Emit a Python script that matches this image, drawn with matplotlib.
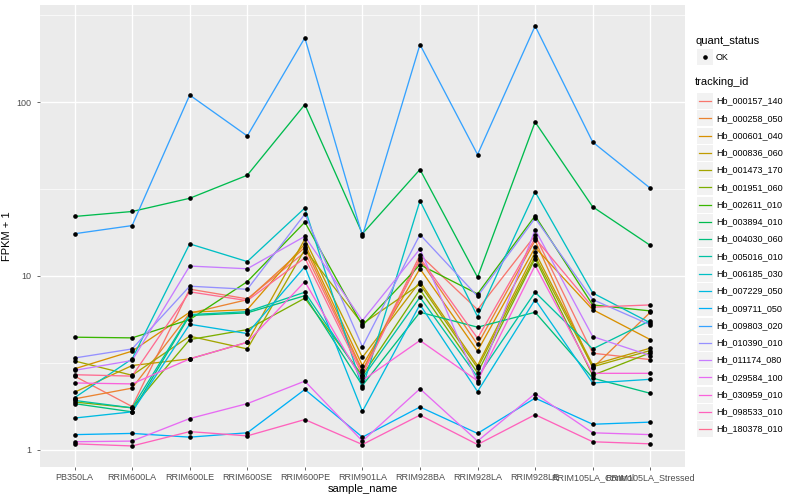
import numpy as np
import matplotlib
matplotlib.use("Agg")
import matplotlib.pyplot as plt
from matplotlib.patches import Rectangle
from matplotlib.lines import Line2D

plt.rcParams['font.family'] = ['Liberation Sans', 'DejaVu Sans']

samples = ["PB350LA", "RRIM600LA", "RRIM600LE", "RRIM600SE", "RRIM600PE",
           "RRIM901LA", "RRIM928BA", "RRIM928LA", "RRIM928LE",
           "RRIM105LA_Control", "RRIM105LA_Stressed"]

tracking_ids = ["Hb_000157_140", "Hb_000258_050", "Hb_000601_040", "Hb_000836_060",
                "Hb_001473_170", "Hb_001951_060", "Hb_002611_010", "Hb_003894_010",
                "Hb_004030_060", "Hb_005016_010", "Hb_006185_030", "Hb_007229_050",
                "Hb_009711_050", "Hb_009803_020", "Hb_010390_010", "Hb_011174_080",
                "Hb_029584_100", "Hb_030959_010", "Hb_098533_010", "Hb_180378_010"]

# FPKM + 1, one list per tracking id, in sample order
fpkm = {
    "Hb_000157_140": [2.65, 1.77, 8.4, 7.38, 13.7, 2.80, 13.2, 6.40, 17.1, 3.59, 3.30],
    "Hb_000258_050": [1.96, 2.26, 6.10, 7.3, 14.6, 2.86, 12.4, 4.03, 16.0, 2.95, 6.18],
    "Hb_000601_040": [2.92, 3.69, 6.18, 6.40, 15.3, 3.05, 11.0, 3.70, 14.6, 6.40, 4.30],
    "Hb_000836_060": [2.14, 3.05, 3.33, 4.15, 16.3, 3.40, 9.27, 3.05, 13.7, 3.08, 3.84],
    "Hb_001473_170": [3.24, 2.68, 4.50, 3.80, 14.2, 5.30, 8.96, 2.95, 13.0, 3.00, 3.72],
    "Hb_001951_060": [1.88, 1.74, 4.30, 4.91, 7.45, 2.67, 8.34, 2.77, 12.6, 2.68, 3.61],
    "Hb_002611_010": [4.44, 4.40, 5.61, 9.27, 20.4, 5.18, 11.6, 7.88, 22.2, 6.81, 6.29],
    "Hb_003894_010": [22.0, 23.5, 28.0, 38.0, 97.0, 17.5, 41.0, 9.83, 77.0, 25.0, 15.0],
    "Hb_004030_060": [1.84, 1.65, 5.92, 6.13, 7.70, 2.34, 6.18, 5.07, 6.18, 2.58, 2.11],
    "Hb_005016_010": [1.92, 1.74, 5.99, 6.23, 8.06, 2.58, 7.54, 2.62, 8.06, 3.80, 5.53],
    "Hb_006185_030": [1.99, 3.33, 15.3, 12.1, 24.6, 2.26, 27.1, 5.84, 30.5, 7.98, 5.37],
    "Hb_007229_050": [1.52, 1.65, 5.27, 4.66, 11.3, 1.66, 6.84, 2.16, 7.31, 2.42, 2.54],
    "Hb_009711_050": [1.22, 1.24, 1.18, 1.25, 2.22, 1.18, 1.76, 1.24, 1.98, 1.40, 1.44],
    "Hb_009803_020": [17.5, 19.5, 110.0, 64.0, 235.0, 17.0, 215.0, 50.0, 275.0, 59.0, 32.0],
    "Hb_010390_010": [3.37, 3.80, 8.73, 8.38, 22.7, 3.91, 17.3, 7.64, 21.5, 7.31, 5.23],
    "Hb_011174_080": [2.86, 3.26, 11.4, 11.0, 16.9, 5.53, 14.3, 2.43, 18.5, 4.48, 3.48],
    "Hb_029584_100": [1.11, 1.12, 1.51, 1.84, 2.48, 1.12, 2.24, 1.12, 2.10, 1.25, 1.22],
    "Hb_030959_010": [2.42, 2.39, 3.33, 4.15, 9.27, 2.50, 4.25, 2.49, 11.5, 2.75, 2.75],
    "Hb_098533_010": [1.08, 1.05, 1.27, 1.20, 1.49, 1.07, 1.58, 1.07, 1.59, 1.11, 1.08],
    "Hb_180378_010": [2.70, 2.65, 8.1, 7.21, 12.7, 2.70, 12.7, 4.38, 16.5, 6.61, 6.81],
}

# ggplot default hue palette for 20 levels
colors = ["#F8766D", "#EA8331", "#D89000", "#C09B00", "#A3A500", "#7CAE00",
          "#39B600", "#00BB4E", "#00BF7D", "#00C1A3", "#00BFC4", "#00BAE0",
          "#00B0F6", "#35A2FF", "#9590FF", "#C77CFF", "#E76BF3", "#FA62DB",
          "#FF62BC", "#FF6C91"]

fig = plt.figure(figsize=(8, 5), dpi=100)
ax = fig.add_axes([0.05, 0.066, 0.806, 0.924])
ax.set_facecolor("#EBEBEB")
for s in ax.spines.values():
    s.set_visible(False)

x = np.arange(len(samples))
for tid, col in zip(tracking_ids, colors):
    ax.plot(x, fpkm[tid], color=col, lw=0.95, zorder=2)
for tid in tracking_ids:
    ax.plot(x, fpkm[tid], 'o', color='black', markersize=2.3, zorder=3)

ax.set_yscale('log')
ax.set_ylim(10 ** -0.1, 10 ** 2.56)
ax.set_xlim(-0.6, len(samples) - 0.4)

# grid
for v in [1, 10, 100]:
    ax.axhline(v, color='white', lw=1.0, zorder=1)
for v in [10 ** 0.5, 10 ** 1.5, 10 ** 2.5]:
    ax.axhline(v, color='white', lw=0.5, zorder=1)
for xi in x:
    ax.axvline(xi, color='white', lw=1.0, zorder=1)

ax.set_yticks([1, 10, 100])
ax.set_yticklabels(["1", "10", "100"])
ax.minorticks_off()
ax.set_xticks(x)
ax.set_xticklabels(samples)
ax.tick_params(axis='both', colors='#4D4D4D', labelsize=6.5, length=2.5, width=0.6)
ax.tick_params(axis='x', pad=2)
ax.set_xlabel("sample_name", fontsize=8, labelpad=1)
ax.set_ylabel("FPKM + 1", fontsize=8)
ax.yaxis.set_label_coords(-0.043, 0.5)

# legends drawn in figure pixel coordinates
W, H = 800, 500
def fx(px):
    return px / W
def fy(py):
    return 1 - py / H

fig.text(fx(695), fy(41), "quant_status", fontsize=8, va='center', ha='left')
fig.patches.append(Rectangle((fx(697), fy(65)), 16 / W, 16 / H, transform=fig.transFigure,
                             facecolor='#F2F2F2', edgecolor='none'))
fig.lines.append(Line2D([fx(705)], [fy(57)], marker='o', color='black', markersize=2.3,
                        transform=fig.transFigure))
fig.text(fx(716), fy(57), "OK", fontsize=6.5, va='center', ha='left')

fig.text(fx(695), fy(82), "tracking_id", fontsize=8, va='center', ha='left')
y0, dy = 101, 17.27
for i, (tid, col) in enumerate(zip(tracking_ids, colors)):
    yc = y0 + i * dy
    fig.patches.append(Rectangle((fx(697), fy(yc + 8)), 16 / W, 16 / H,
                                 transform=fig.transFigure,
                                 facecolor='#F2F2F2', edgecolor='none'))
    fig.lines.append(Line2D([fx(699), fx(711)], [fy(yc), fy(yc)], color=col, lw=0.9,
                            transform=fig.transFigure))
    fig.text(fx(716), fy(yc), tid, fontsize=6.5, va='center', ha='left')

fig.savefig("out.png", dpi=100)
